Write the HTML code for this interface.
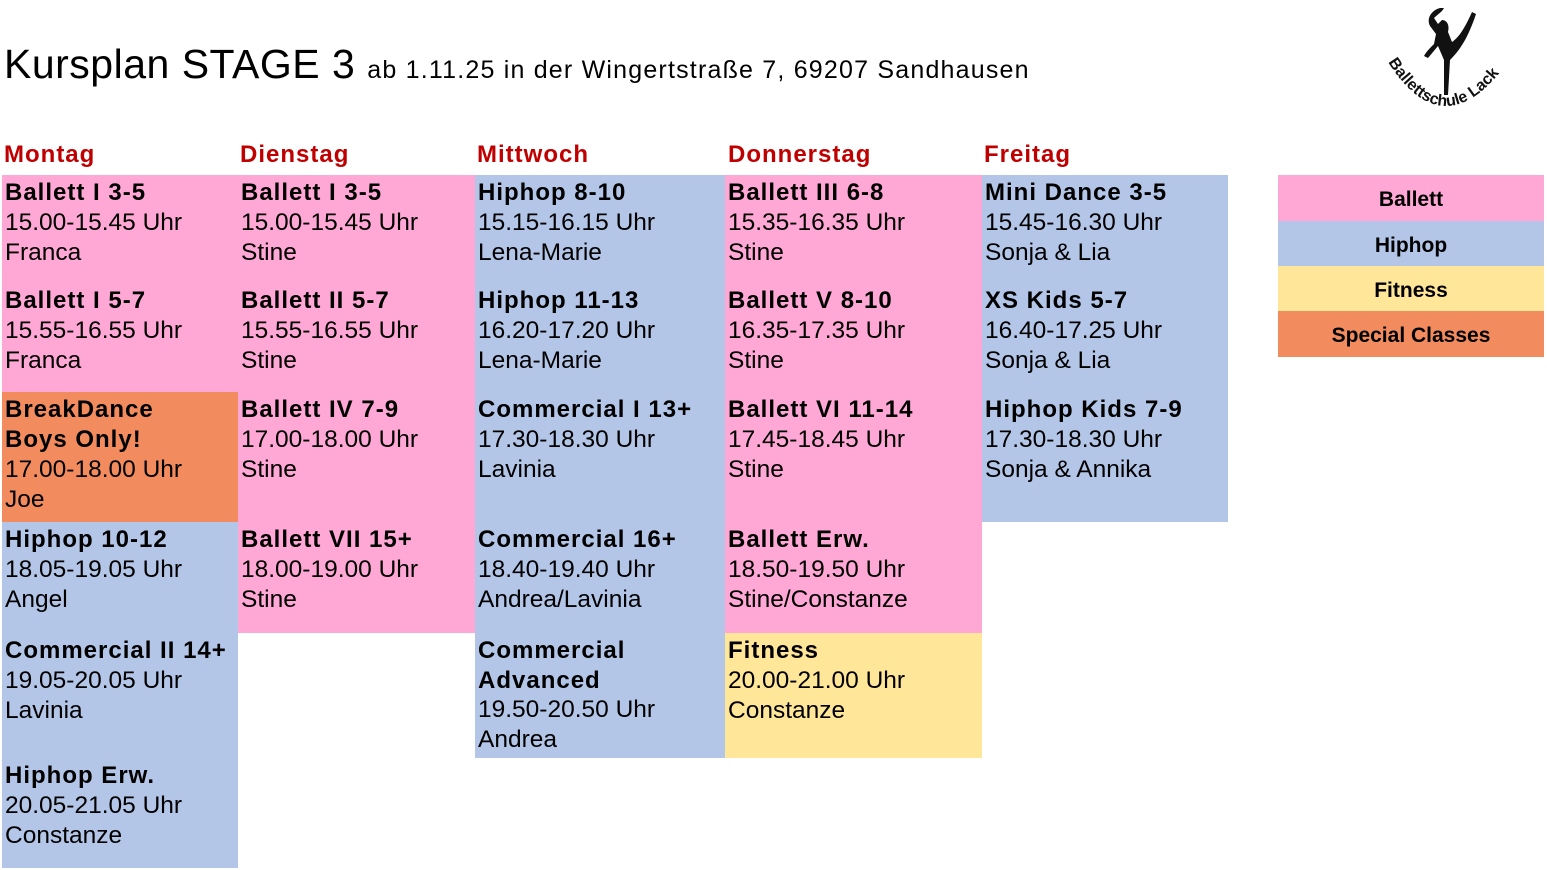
<!DOCTYPE html>
<html><head><meta charset="utf-8"><style>
body{margin:0;width:1547px;height:870px;background:#fff;position:relative;overflow:hidden;font-family:"Liberation Sans","DejaVu Sans",sans-serif;color:#000}
.c{position:absolute;box-sizing:border-box;padding:3px 0 0 3px;font-size:24.5px;line-height:30px;white-space:nowrap}
.c b{letter-spacing:1px;font-size:24px}
.p{background:#FFA8D5}.b{background:#B4C6E7}.y{background:#FFE699}.o{background:#F28B5E}
.h{position:absolute;top:141px;color:#C00000;font-weight:bold;font-size:24px;letter-spacing:1px}
.l{position:absolute;left:1278px;width:266px;text-align:center;font-weight:bold;font-size:21px;box-sizing:border-box;padding-top:13px}
</style></head><body>
<div style="position:absolute;left:4px;top:41px;font-size:41px;letter-spacing:.5px">Kursplan STAGE 3 <span style="font-size:25px;letter-spacing:1.2px">ab 1.11.25 in der Wingertstraße 7, 69207 Sandhausen</span></div>
<svg style="position:absolute;left:1380px;top:0" width="140" height="125" viewBox="0 0 140 125">
<path d="M60 8 C52 10 46 18 50 26 L56 34 L54 44 C50 48 46 52 44 56 L48 58 L58 46 L64 60 L64 95 L68 95 L70 60 C80 50 88 38 96 14 L92 12 C84 30 78 38 72 42 L68 32 C70 24 66 20 62 20 L58 24 L54 18 C58 14 62 12 64 8 Z" fill="#111"/>
<defs><path id="arc" d="M8 62 Q64 150 128 62"/></defs>
<text font-family="Liberation Sans,sans-serif" font-size="16" font-weight="bold" fill="#111"><textPath href="#arc">Ballettschule Lack</textPath></text>
</svg>
<div class="h" style="left:4px">Montag</div><div class="h" style="left:240px">Dienstag</div><div class="h" style="left:477px">Mittwoch</div><div class="h" style="left:728px">Donnerstag</div><div class="h" style="left:984px">Freitag</div>

<div class="c p" style="left:2px;top:175px;width:236px;height:108px"><b>Ballett I 3-5</b><br>15.00-15.45 Uhr<br>Franca</div>
<div class="c p" style="left:2px;top:283px;width:236px;height:109px"><b>Ballett I 5-7</b><br>15.55-16.55 Uhr<br>Franca</div>
<div class="c o" style="left:2px;top:392px;width:236px;height:130px"><b>BreakDance<br>Boys Only!</b><br>17.00-18.00 Uhr<br>Joe</div>
<div class="c b" style="left:2px;top:522px;width:236px;height:111px"><b>Hiphop 10-12</b><br>18.05-19.05 Uhr<br>Angel</div>
<div class="c b" style="left:2px;top:633px;width:236px;height:125px"><b>Commercial II 14+</b><br>19.05-20.05 Uhr<br>Lavinia</div>
<div class="c b" style="left:2px;top:758px;width:236px;height:110px"><b>Hiphop Erw.</b><br>20.05-21.05 Uhr<br>Constanze</div>

<div class="c p" style="left:238px;top:175px;width:237px;height:108px"><b>Ballett I 3-5</b><br>15.00-15.45 Uhr<br>Stine</div>
<div class="c p" style="left:238px;top:283px;width:237px;height:109px"><b>Ballett II 5-7</b><br>15.55-16.55 Uhr<br>Stine</div>
<div class="c p" style="left:238px;top:392px;width:237px;height:130px"><b>Ballett IV 7-9</b><br>17.00-18.00 Uhr<br>Stine</div>
<div class="c p" style="left:238px;top:522px;width:237px;height:111px"><b>Ballett VII 15+</b><br>18.00-19.00 Uhr<br>Stine</div>

<div class="c b" style="left:475px;top:175px;width:250px;height:108px"><b>Hiphop 8-10</b><br>15.15-16.15 Uhr<br>Lena-Marie</div>
<div class="c b" style="left:475px;top:283px;width:250px;height:109px"><b>Hiphop 11-13</b><br>16.20-17.20 Uhr<br>Lena-Marie</div>
<div class="c b" style="left:475px;top:392px;width:250px;height:130px"><b>Commercial I 13+</b><br>17.30-18.30 Uhr<br>Lavinia</div>
<div class="c b" style="left:475px;top:522px;width:250px;height:111px"><b>Commercial 16+</b><br>18.40-19.40 Uhr<br>Andrea/Lavinia</div>
<div class="c b" style="left:475px;top:633px;width:250px;height:125px;line-height:29.5px"><b>Commercial<br>Advanced</b><br>19.50-20.50 Uhr<br>Andrea</div>

<div class="c p" style="left:725px;top:175px;width:257px;height:108px"><b>Ballett III 6-8</b><br>15.35-16.35 Uhr<br>Stine</div>
<div class="c p" style="left:725px;top:283px;width:257px;height:109px"><b>Ballett V 8-10</b><br>16.35-17.35 Uhr<br>Stine</div>
<div class="c p" style="left:725px;top:392px;width:257px;height:130px"><b>Ballett VI 11-14</b><br>17.45-18.45 Uhr<br>Stine</div>
<div class="c p" style="left:725px;top:522px;width:257px;height:111px"><b>Ballett Erw.</b><br>18.50-19.50 Uhr<br>Stine/Constanze</div>
<div class="c y" style="left:725px;top:633px;width:257px;height:125px"><b>Fitness</b><br>20.00-21.00 Uhr<br>Constanze</div>

<div class="c b" style="left:982px;top:175px;width:246px;height:108px"><b>Mini Dance 3-5</b><br>15.45-16.30 Uhr<br>Sonja &amp; Lia</div>
<div class="c b" style="left:982px;top:283px;width:246px;height:109px"><b>XS Kids 5-7</b><br>16.40-17.25 Uhr<br>Sonja &amp; Lia</div>
<div class="c b" style="left:982px;top:392px;width:246px;height:130px"><b>Hiphop Kids 7-9</b><br>17.30-18.30 Uhr<br>Sonja &amp; Annika</div>

<div class="l p" style="top:175px;height:46px">Ballett</div>
<div class="l b" style="top:221px;height:45px">Hiphop</div>
<div class="l y" style="top:266px;height:45px">Fitness</div>
<div class="l o" style="top:311px;height:46px">Special Classes</div>
</body></html>
